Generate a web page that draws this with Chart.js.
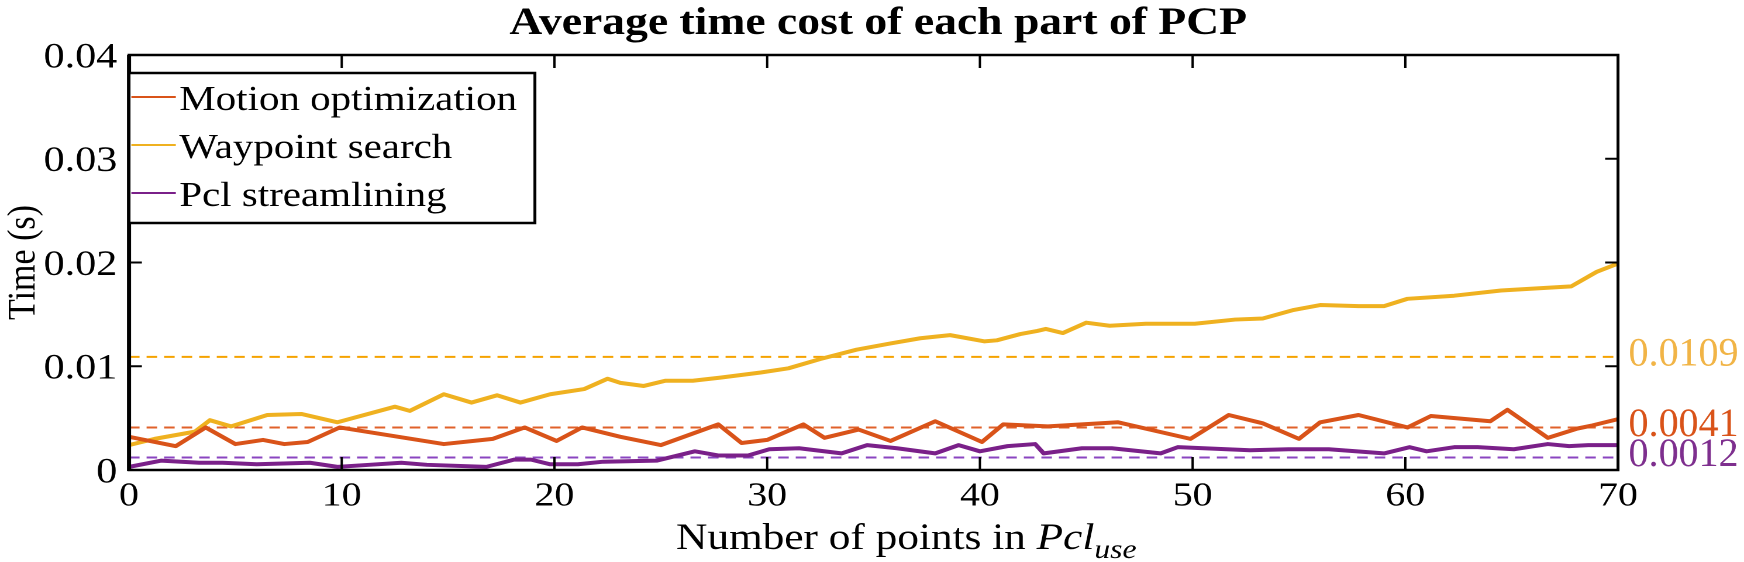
<!DOCTYPE html>
<html>
<head>
<meta charset="utf-8">
<script src="https://cdn.jsdelivr.net/npm/chart.js@4.4.1/dist/chart.umd.min.js"></script>
<style>
  html, body { margin: 0; padding: 0; background: #fff; overflow: hidden; }
  /* the original figure is stretched horizontally, so draw narrower and stretch */
  #wrap { width: 1491px; height: 562px; transform: scaleX(1.16968); transform-origin: 0 0; }
</style>
</head>
<body>
<div id="wrap"><canvas id="chart" width="1491" height="562"></canvas></div>
<script>
const STRETCH = 1744 / 1491;
const SERIF = '"Liberation Serif", "Times New Roman", serif';

const chartTitle = "Average time cost of each part of PCP";
const seriesNames = ["Motion optimization", "Waypoint search", "Pcl streamlining"];

const motionX = [0, 2.2, 3.6, 5.0, 6.3, 7.3, 8.4, 9.9, 14.8, 17.1, 18.6, 20.1, 21.3, 23.1, 25.0, 27.7, 28.8, 30.0,
  31.7, 32.7, 34.3, 35.8, 37.9, 40.1, 41.1, 43.2, 46.5, 49.9, 51.7, 53.3, 55.0, 56.0, 57.8, 60.1, 61.2, 64.0,
  64.8, 66.7, 68.1, 68.8, 70];
const motionY = [0.0032, 0.0023, 0.0041, 0.0025, 0.0029, 0.0025, 0.0027, 0.0041, 0.0025, 0.0030, 0.0041, 0.0028,
  0.0041, 0.0032, 0.0024, 0.0044, 0.0026, 0.0029, 0.0044, 0.0031, 0.0039, 0.0028, 0.0047, 0.0027, 0.0044, 0.0042,
  0.0046, 0.0030, 0.0053, 0.0045, 0.0030, 0.0046, 0.0053, 0.0041, 0.0052, 0.0047, 0.0058, 0.0031, 0.0040, 0.0043,
  0.0049];

const waypointX = [0, 1.2, 3.1, 3.8, 4.8, 6.5, 8.1, 9.8, 12.5, 13.2, 14.8, 16.1, 17.3, 18.4, 19.8, 21.4, 22.5, 23.1,
  24.2, 25.2, 26.5, 27.8, 29.7, 31.0, 32.5, 34.2, 35.8, 37.2, 38.6, 40.2, 40.8, 41.9, 42.7, 43.1, 43.9, 45.0, 46.1,
  47.8, 50.1, 52.0, 53.3, 54.7, 56.0, 57.8, 59.0, 60.1, 62.3, 64.5, 67.8, 69.0, 70];
const waypointY = [0.0024, 0.0030, 0.0037, 0.0048, 0.0042, 0.0053, 0.0054, 0.0046, 0.0061, 0.0057, 0.0073, 0.0065,
  0.0072, 0.0065, 0.0073, 0.0078, 0.0088, 0.0084, 0.0081, 0.0086, 0.0086, 0.0089, 0.0094, 0.0098, 0.0107, 0.0116,
  0.0122, 0.0127, 0.0130, 0.0124, 0.0125, 0.0131, 0.0134, 0.0136, 0.0132, 0.0142, 0.0139, 0.0141, 0.0141, 0.0145,
  0.0146, 0.0154, 0.0159, 0.0158, 0.0158, 0.0165, 0.0168, 0.0173, 0.0177, 0.0191, 0.0199];

const pclX = [0, 1.5, 3.3, 4.4, 6.0, 8.5, 9.8, 11.3, 12.8, 14.0, 16.8, 18.1, 18.9, 19.8, 21.1, 22.3, 24.8, 26.6,
  27.7, 29.1, 30.1, 31.5, 33.5, 34.7, 36.1, 37.9, 39.0, 40.0, 41.3, 42.6, 43.0, 44.8, 46.2, 48.5, 49.3, 52.7, 54.5,
  56.4, 59.0, 60.2, 61.0, 62.3, 63.4, 65.1, 66.7, 67.7, 68.6, 70];
const pclY = [0.0003, 0.0009, 0.0007, 0.0007, 0.00055, 0.0007, 0.0003, 0.0005, 0.0007, 0.0005, 0.0003, 0.0010,
  0.0010, 0.00055, 0.00055, 0.0008, 0.0009, 0.0018, 0.0014, 0.0014, 0.0020, 0.0021, 0.0016, 0.0024, 0.0021, 0.0016,
  0.0024, 0.0018, 0.0023, 0.0025, 0.0016, 0.0021, 0.0021, 0.0016, 0.0022, 0.0019, 0.0020, 0.0020, 0.0016, 0.0022,
  0.0018, 0.0022, 0.0022, 0.0020, 0.0025, 0.0023, 0.0024, 0.0024];

const meanValues = [0.0109, 0.0041, 0.0012];
const meanLabels = ["0.0109", "0.0041", "0.0012"];

const xTicks = [0, 10, 20, 30, 40, 50, 60, 70];
const yTicks = [0, 0.01, 0.02, 0.03, 0.04];
const yTickLabels = ["0", "0.01", "0.02", "0.03", "0.04"];

const lineColors = ["#D95319", "#EFB120", "#7A2089"];
const dashColors = ["#F5A300", "#E0612A", "#8A45C0"];
const labelColors = ["#F1B446", "#D95319", "#7E2F8E"];

const toPoints = (xs, ys) => xs.map((x, i) => ({ x: x, y: ys[i] }));
const seriesData = [toPoints(motionX, motionY), toPoints(waypointX, waypointY), toPoints(pclX, pclY)];

const datasets = seriesNames.map((name, i) => ({
  label: name,
  data: seriesData[i],
  borderColor: lineColors[i],
  borderWidth: 4,
  pointRadius: 0,
  tension: 0
}));
meanValues.forEach((v, i) => {
  datasets.push({
    label: "mean " + meanLabels[i],
    data: [{ x: xTicks[0], y: v }, { x: xTicks[xTicks.length - 1], y: v }],
    borderColor: dashColors[i],
    borderWidth: 2,
    borderDash: [9, 6],
    pointRadius: 0
  });
});

// title drawn by hand: it sits a bit right of the canvas centre in the original
const topTitle = {
  id: "topTitle",
  afterDraw(chart) {
    const { ctx, chartArea: a } = chart;
    ctx.save();
    ctx.font = "bold 39px " + SERIF;
    ctx.fillStyle = "#000";
    ctx.textAlign = "center";
    ctx.textBaseline = "alphabetic";
    ctx.fillText(chartTitle, (a.left + a.right) / 2 + 4, 34);
    ctx.restore();
  }
};

// box round the plot with inward ticks, like the original
const boxAxes = {
  id: "boxAxes",
  afterDatasetsDraw(chart) {
    const { ctx, chartArea: a, scales: { x, y } } = chart;
    const seg = (x1, y1, x2, y2) => { ctx.beginPath(); ctx.moveTo(x1, y1); ctx.lineTo(x2, y2); ctx.stroke(); };
    ctx.save();
    ctx.strokeStyle = "#000";
    ctx.lineWidth = 2.5;
    ctx.strokeRect(a.left, a.top, a.right - a.left, a.bottom - a.top);
    ctx.lineWidth = 3.5;
    seg(a.left, a.top, a.left, a.bottom + 1);
    ctx.lineWidth = 2;
    xTicks.slice(1, -1).forEach(v => {
      const px = x.getPixelForValue(v);
      seg(px, a.bottom, px, a.bottom - 13);
      seg(px, a.top, px, a.top + 13);
    });
    yTicks.slice(1, -1).forEach(v => {
      const py = y.getPixelForValue(v);
      seg(a.left, py, a.left + 11, py);
      seg(a.right, py, a.right - 11, py);
    });
    ctx.restore();
  }
};

// mean value labels on the right, not stretched
const meanTags = {
  id: "meanTags",
  afterDraw(chart) {
    const { ctx, chartArea: a, scales: { y } } = chart;
    ctx.save();
    ctx.font = "40px " + SERIF;
    ctx.textBaseline = "middle";
    ctx.textAlign = "left";
    meanValues.forEach((v, i) => {
      ctx.save();
      ctx.translate(a.right + 9, y.getPixelForValue(v) - 2);
      ctx.scale(1 / STRETCH, 1);
      ctx.fillStyle = labelColors[i];
      ctx.fillText(meanLabels[i], 0, 0);
      ctx.restore();
    });
    ctx.restore();
  }
};

// legend box in the top left corner
const boxLegend = {
  id: "boxLegend",
  afterDraw(chart) {
    const { ctx, chartArea: a } = chart;
    const top = a.top + 18, left = a.left, w = 347, h = 150;
    ctx.save();
    ctx.fillStyle = "#fff";
    ctx.fillRect(left, top, w, h);
    ctx.strokeStyle = "#000";
    ctx.lineWidth = 2.5;
    ctx.strokeRect(left, top, w, h);
    ctx.font = "35px " + SERIF;
    ctx.textBaseline = "middle";
    ctx.fillStyle = "#000";
    seriesNames.forEach((name, i) => {
      const rowY = top + 28 + i * 48;
      ctx.strokeStyle = chart.data.datasets[i].borderColor;
      ctx.lineWidth = 2;
      ctx.beginPath();
      ctx.moveTo(left + 2, rowY - 4);
      ctx.lineTo(left + 40, rowY - 4);
      ctx.stroke();
      ctx.fillText(name, left + 43, rowY);
    });
    ctx.restore();
  }
};

// x axis title with italic Pcl and subscript "use"
const xTitle = {
  id: "xTitle",
  afterDraw(chart) {
    const { ctx, chartArea: a } = chart;
    const parts = [
      { t: "Number of points in ", f: "37px " + SERIF, dy: 0 },
      { t: "Pcl", f: "italic 37px " + SERIF, dy: 0 },
      { t: "use", f: "italic 27px " + SERIF, dy: 9 }
    ];
    ctx.save();
    ctx.fillStyle = "#000";
    ctx.textBaseline = "alphabetic";
    let total = 0;
    parts.forEach(p => { ctx.font = p.f; p.w = ctx.measureText(p.t).width; total += p.w; });
    let cx = (a.left + a.right) / 2 + 28 - total / 2;
    const base = 549;
    parts.forEach(p => { ctx.font = p.f; ctx.fillText(p.t, cx, base + p.dy); cx += p.w; });
    ctx.restore();
  }
};

new Chart(document.getElementById("chart"), {
  type: "line",
  data: { datasets: datasets },
  options: {
    responsive: false,
    animation: false,
    devicePixelRatio: 2,
    layout: { padding: { left: 0, right: 107.7, top: 55, bottom: 0 } },
    elements: { line: { borderJoinStyle: "round" } },
    plugins: {
      legend: { display: false },
      tooltip: { enabled: false },
      title: { display: false }
    },
    scales: {
      x: {
        type: "linear",
        min: xTicks[0],
        max: xTicks[xTicks.length - 1],
        afterBuildTicks: s => { s.ticks = xTicks.map(v => ({ value: v })); },
        afterFit: s => { s.height = 92; },
        grid: { display: false, drawTicks: false },
        border: { display: false },
        ticks: { color: "#000", font: { family: SERIF, size: 34 }, padding: 6, maxRotation: 0 }
      },
      y: {
        min: yTicks[0],
        max: yTicks[yTicks.length - 1],
        afterBuildTicks: s => { s.ticks = yTicks.map(v => ({ value: v })); },
        afterFit: s => { s.width = 110.3; },
        grid: { display: false, drawTicks: false },
        border: { display: false },
        ticks: {
          color: "#000",
          font: { family: SERIF, size: 36 },
          padding: 10,
          labelOffset: 3,
          callback: (v, i) => yTickLabels[i]
        },
        title: {
          display: true,
          text: "Time (s)",
          color: "#000",
          font: { family: SERIF, size: 34 },
          padding: 0
        }
      }
    }
  },
  plugins: [boxAxes, meanTags, boxLegend, xTitle, topTitle]
});
</script>
</body>
</html>
